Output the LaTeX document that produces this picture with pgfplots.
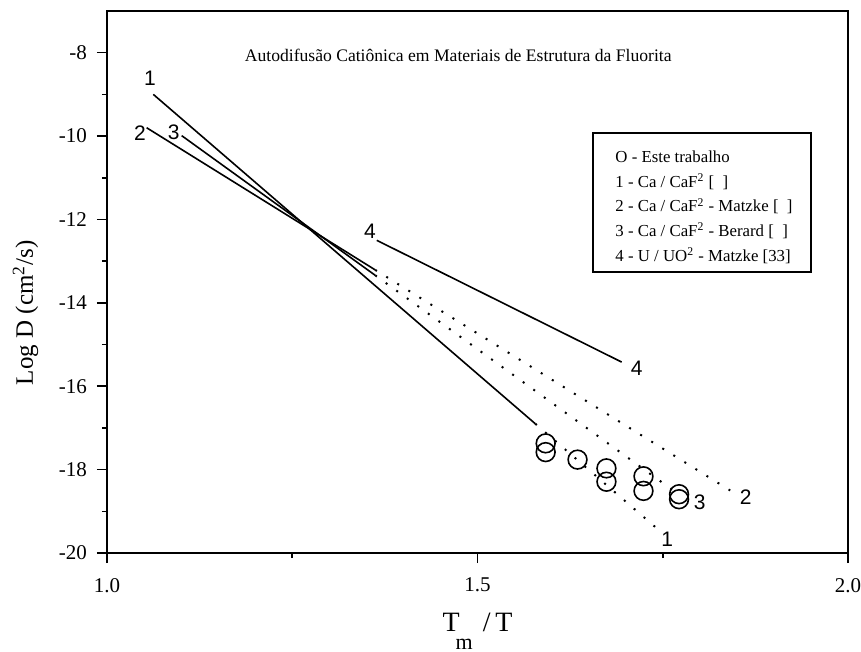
\documentclass[border=0pt]{standalone}
\usepackage{fontspec}
\setmainfont{Liberation Serif}
\newfontfamily\numsans{Liberation Sans}
\usepackage{pgfplots}
\pgfplotsset{compat=1.18}
\begin{document}
\begin{tikzpicture}
\path[use as bounding box] (-53.5pt,-49.5pt) rectangle (377pt,276.5pt);
\begin{axis}[
  at={(0pt,0pt)}, anchor=south west,
  scale only axis, width=370.5pt, height=271pt,
  xmin=1, xmax=2, ymin=-20, ymax=-7,
  xtick={1,1.5,2}, ytick={-20,-18,...,-8},
  minor xtick={1.25,1.75}, minor ytick={-19,-17,...,-9},
  tick pos=left, tick align=outside,
  major tick length=5pt, minor tick length=2.5pt,
  /pgf/number format/assume math mode=true,
  ticklabel style={font=\fontsize{10.5}{12}\selectfont},
  xticklabel style={yshift=-4pt, /pgf/number format/.cd, fixed, fixed zerofill, precision=1},
  yticklabel style={xshift=-1.5pt},
  axis line style={line width=0.9pt},
  tick style={line width=0.8pt, black},
  xlabel={T\hspace{-2pt}\raisebox{-9pt}{\fontsize{11}{12}\selectfont m}\hspace{5pt}/\,T},
  xlabel style={font=\fontsize{14}{16}\selectfont, at={(axis description cs:0.5,-0.144)}, anchor=base},
  ylabel={Log D (cm\textsuperscript{2}/s)},
  ylabel style={font=\fontsize{12.5}{14}\selectfont, at={(axis description cs:-0.0999,0.443)}, anchor=base, rotate=0},
  clip=false,
]
% line 1
\addplot[black, line width=0.8pt] coordinates {(1.0625,-9.00) (1.578,-16.90)};
\addplot[black, line width=1pt, dash pattern=on 1pt off 5.5pt] coordinates {(1.578,-16.90) (1.746,-19.47)};
% line 2
\addplot[black, line width=0.8pt] coordinates {(1.0535,-9.80) (1.362,-13.21)};
\addplot[black, line width=1pt, dash pattern=on 1pt off 5.5pt] coordinates {(1.362,-13.21) (1.841,-18.50)};
% line 3
\addplot[black, line width=0.8pt] coordinates {(1.1008,-9.99) (1.362,-13.34)};
\addplot[black, line width=1pt, dash pattern=on 1pt off 5.5pt] coordinates {(1.362,-13.34) (1.768,-18.55)};
% line 4
\addplot[black, line width=0.8pt] coordinates {(1.364,-12.50) (1.6945,-15.42)};
% este trabalho
\addplot[only marks, mark=o, mark size=4.7pt, mark options={line width=0.8pt, black}] coordinates {
(1.592,-17.37) (1.592,-17.58) (1.635,-17.76) (1.674,-17.97) (1.674,-18.29)
(1.724,-18.16) (1.724,-18.51) (1.772,-18.59) (1.772,-18.71)};
% line labels
\node[font=\numsans\fontsize{10.5}{12}\selectfont] at (axis cs:1.058,-8.62) {1};
\node[font=\numsans\fontsize{10.5}{12}\selectfont] at (axis cs:1.0445,-9.94) {2};
\node[font=\numsans\fontsize{10.5}{12}\selectfont] at (axis cs:1.090,-9.92) {3};
\node[font=\numsans\fontsize{10.5}{12}\selectfont] at (axis cs:1.355,-12.29) {4};
\node[font=\numsans\fontsize{10.5}{12}\selectfont] at (axis cs:1.715,-15.57) {4};
\node[font=\numsans\fontsize{10.5}{12}\selectfont] at (axis cs:1.756,-19.66) {1};
\node[font=\numsans\fontsize{10.5}{12}\selectfont] at (axis cs:1.862,-18.66) {2};
\node[font=\numsans\fontsize{10.5}{12}\selectfont] at (axis cs:1.800,-18.78) {3};
% title
\node[anchor=base, font=\fontsize{8.8}{10}\selectfont] at (axis description cs:0.474,0.906) {Autodifusão Catiônica em Materiais de Estrutura da Fluorita};
% legend box
\draw[line width=0.8pt] (axis description cs:0.6559,0.5185) rectangle (axis description cs:0.9501,0.7749);
\begin{scope}[every node/.style={anchor=base west, inner sep=0pt, font=\fontsize{8.4}{10}\selectfont}]
\node at (axis description cs:0.6856,0.7196) {O - Este trabalho};
\node at (axis description cs:0.6856,0.6744) {1 - Ca / CaF\textsuperscript{2} [ \ ]};
\node at (axis description cs:0.6856,0.6292) {2 - Ca / CaF\textsuperscript{2} - Matzke [ \ ]};
\node at (axis description cs:0.6856,0.5840) {3 - Ca / CaF\textsuperscript{2} - Berard [ \ ]};
\node at (axis description cs:0.6856,0.5387) {4 - U / UO\textsuperscript{2} - Matzke [33]};
\end{scope}
\end{axis}
\end{tikzpicture}
\end{document}
